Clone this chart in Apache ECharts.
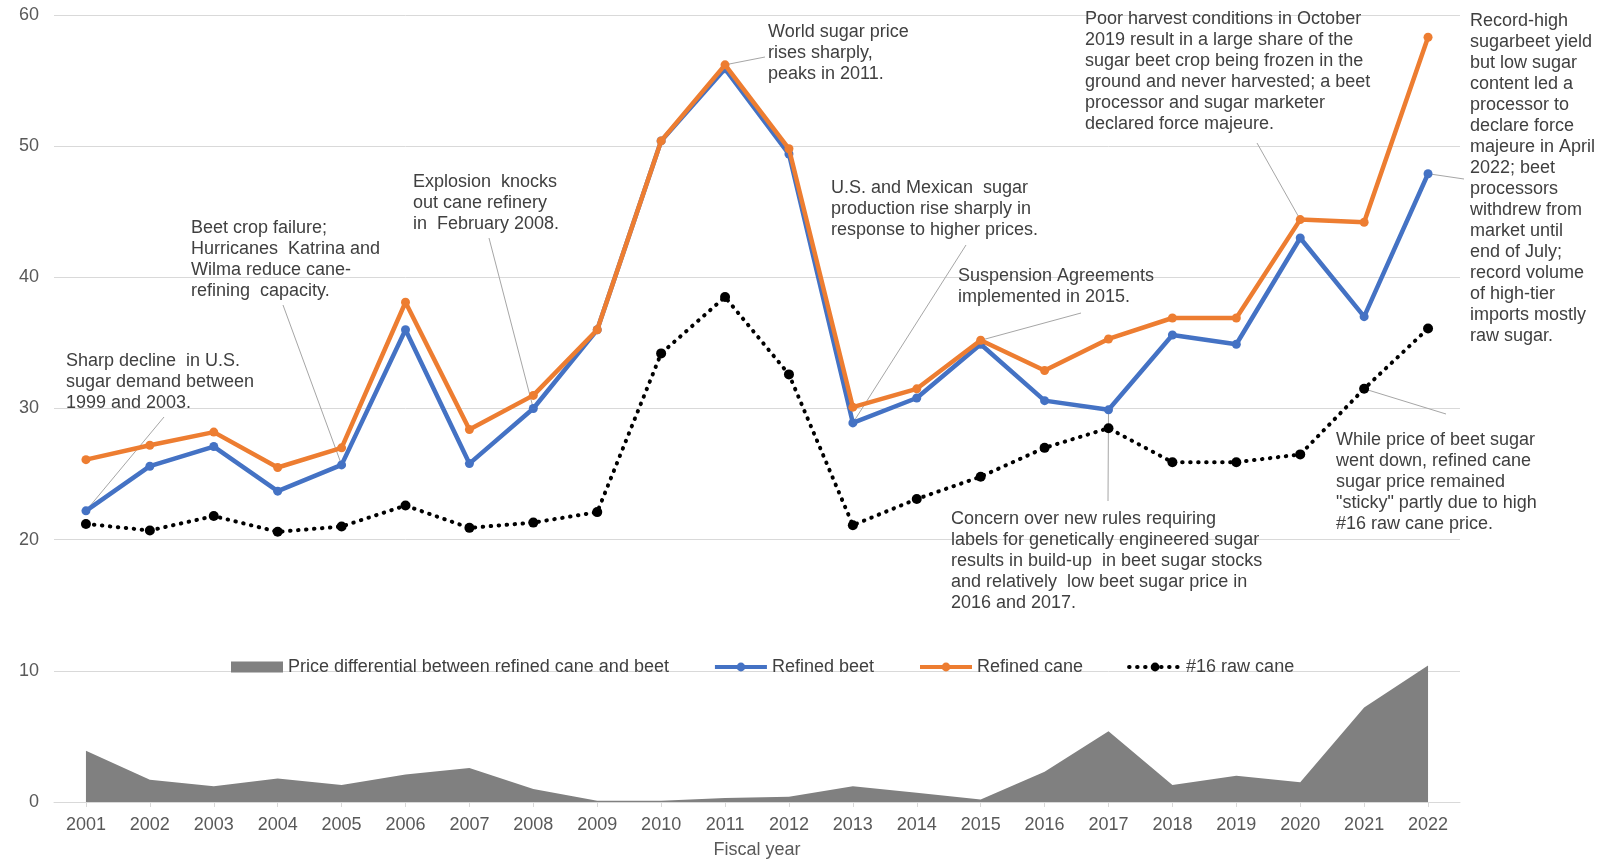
<!DOCTYPE html>
<html>
<head>
<meta charset="utf-8">
<script src="https://cdn.jsdelivr.net/npm/echarts/dist/echarts.min.js"></script>
<style>
  html, body { margin: 0; padding: 0; background: #ffffff; }
  #chart { width: 1604px; height: 859px; }
</style>
</head>
<body>
<div id="chart"></div>
<script>
// Fiscal years on the category axis
const years = ['2001','2002','2003','2004','2005','2006','2007','2008','2009','2010','2011',
               '2012','2013','2014','2015','2016','2017','2018','2019','2020','2021','2022'];

// Prices, cents per pound
const refinedBeet = [22.2, 25.6, 27.1, 23.7, 25.7, 36.0, 25.8, 30.0, 36.0, 50.4, 55.9,
                     49.4, 28.9, 30.8, 34.9, 30.6, 29.9, 35.6, 34.9, 43.0, 37.0, 47.9];
const refinedCane = [26.1, 27.2, 28.2, 25.5, 27.0, 38.1, 28.4, 31.0, 36.0, 50.4, 56.2,
                     49.8, 30.1, 31.5, 35.2, 32.9, 35.3, 36.9, 36.9, 44.4, 44.2, 58.3];
const rawCane16   = [21.2, 20.7, 21.8, 20.6, 21.0, 22.6, 20.9, 21.3, 22.1, 34.2, 38.5,
                     32.6, 21.1, 23.1, 24.8, 27.0, 28.5, 25.9, 25.9, 26.5, 31.5, 36.1];
const priceDiff   = [3.9, 1.7, 1.2, 1.8, 1.3, 2.1, 2.6, 1.0, 0.1, 0.1, 0.3,
                     0.4, 1.2, 0.7, 0.2, 2.3, 5.4, 1.3, 2.0, 1.5, 7.2, 10.4];

// Value axis range
const yMin = 0, yMax = 60, yStep = 10;

const FONT = '"Liberation Sans", Arial, sans-serif';
const TEXT = '#404040';

const chart = echarts.init(document.getElementById('chart'), null, { renderer: 'canvas' });

chart.setOption({
  animation: false,
  backgroundColor: '#ffffff',
  textStyle: { fontFamily: FONT },
  grid: { left: 54, right: 144, top: 15, bottom: 57, containLabel: false, outerBoundsMode: 'none' },
  legend: {
    left: 231, top: 658, padding: 0,
    itemWidth: 52, itemHeight: 11, itemGap: 44,
    textStyle: { fontSize: 18, color: TEXT, fontFamily: FONT },
    data: [
      { name: 'Price differential between refined cane and beet', icon: 'rect' },
      { name: 'Refined beet', lineStyle: { width: 4 } },
      { name: 'Refined cane', lineStyle: { width: 4 } },
      { name: '#16 raw cane', lineStyle: { width: 4 } }
    ]
  },
  xAxis: {
    type: 'category',
    data: years,
    name: 'Fiscal year',
    nameLocation: 'middle',
    nameGap: 39,
    nameTextStyle: { fontSize: 18, color: '#595959', fontFamily: FONT },
    axisLine: { lineStyle: { color: '#d9d9d9', width: 1 } },
    axisTick: { show: true, alignWithLabel: true, length: 5, lineStyle: { color: '#d9d9d9' } },
    axisLabel: { fontSize: 18, color: '#595959', margin: 14, fontFamily: FONT }
  },
  yAxis: {
    type: 'value',
    min: yMin, max: yMax, interval: yStep,
    axisLine: { show: false },
    axisTick: { show: false },
    axisLabel: { fontSize: 18, color: '#595959', margin: 15, fontFamily: FONT },
    splitLine: { lineStyle: { color: '#d9d9d9', width: 1 } }
  },
  series: [
    {
      name: 'Price differential between refined cane and beet',
      type: 'line',
      data: priceDiff,
      symbol: 'none',
      itemStyle: { color: '#808080' },
      lineStyle: { width: 0, color: '#808080' },
      areaStyle: { color: '#808080', opacity: 1 },
      z: 1
    },
    {
      name: 'Refined beet',
      type: 'line',
      data: refinedBeet,
      symbol: 'circle', symbolSize: 9,
      itemStyle: { color: '#4472c4' },
      lineStyle: { width: 4.5, color: '#4472c4' },
      z: 3
    },
    {
      name: 'Refined cane',
      type: 'line',
      data: refinedCane,
      symbol: 'circle', symbolSize: 9,
      itemStyle: { color: '#ed7d31' },
      lineStyle: { width: 4.5, color: '#ed7d31' },
      z: 4
    },
    {
      name: '#16 raw cane',
      type: 'line',
      data: rawCane16,
      symbol: 'circle', symbolSize: 10,
      itemStyle: { color: '#000000' },
      lineStyle: { width: 4, color: '#000000', type: [0.5, 7.5], cap: 'round' },
      z: 5
    }
  ]
});

// Callout notes: text block (left/top), leader start, and the data point it points to
const notes = [
  { text: 'Sharp decline  in U.S.\nsugar demand between\n1999 and 2003.',
    left: 66, top: 351, from: [164, 417], series: 1, year: '2001' },
  { text: 'Beet crop failure;\nHurricanes  Katrina and\nWilma reduce cane-\nrefining  capacity.',
    left: 191, top: 218, from: [283, 305], series: 1, year: '2005' },
  { text: 'Explosion  knocks\nout cane refinery\nin  February 2008.',
    left: 413, top: 172, from: [489, 238], series: 1, year: '2008' },
  { text: 'World sugar price\nrises sharply,\npeaks in 2011.',
    left: 768, top: 22, from: [765, 57], series: 2, year: '2011' },
  { text: 'U.S. and Mexican  sugar\nproduction rise sharply in\nresponse to higher prices.',
    left: 831, top: 178, from: [966, 245], series: 1, year: '2013' },
  { text: 'Suspension Agreements\nimplemented in 2015.',
    left: 958, top: 266, from: [1081, 313], series: 2, year: '2015' },
  { text: 'Poor harvest conditions in October\n2019 result in a large share of the\nsugar beet crop being frozen in the\nground and never harvested; a beet\nprocessor and sugar marketer\ndeclared force majeure.',
    left: 1085, top: 9, from: [1257, 143], series: 2, year: '2020' },
  { text: 'Record-high\nsugarbeet yield\nbut low sugar\ncontent led a\nprocessor to\ndeclare force\nmajeure in April\n2022; beet\nprocessors\nwithdrew from\nmarket until\nend of July;\nrecord volume\nof high-tier\nimports mostly\nraw sugar.',
    left: 1470, top: 11, from: [1464, 179], series: 1, year: '2022' },
  { text: 'While price of beet sugar\nwent down, refined cane\nsugar price remained\n"sticky" partly due to high\n#16 raw cane price.',
    left: 1336, top: 430, from: [1446, 414], series: 3, year: '2021' },
  { text: 'Concern over new rules requiring\nlabels for genetically engineered sugar\nresults in build-up  in beet sugar stocks\nand relatively  low beet sugar price in\n2016 and 2017.',
    left: 951, top: 509, from: [1108, 501], series: 1, year: '2017' }
];

const seriesValues = [priceDiff, refinedBeet, refinedCane, rawCane16];

const graphics = [];
notes.forEach(n => {
  const idx = years.indexOf(n.year);
  const p = chart.convertToPixel({ seriesIndex: n.series }, [idx, seriesValues[n.series][idx]]);
  graphics.push({
    type: 'line', z: 0,
    shape: { x1: n.from[0], y1: n.from[1], x2: p[0], y2: p[1] },
    style: { stroke: '#a6a6a6', lineWidth: 1 }
  });
  graphics.push({
    type: 'text', z: 10,
    x: n.left, y: n.top,
    style: {
      text: n.text, fill: TEXT, fontSize: 18, fontFamily: FONT,
      lineHeight: 21, verticalAlign: 'top', align: 'left'
    }
  });
});
chart.setOption({ graphic: graphics });
</script>
</body>
</html>
